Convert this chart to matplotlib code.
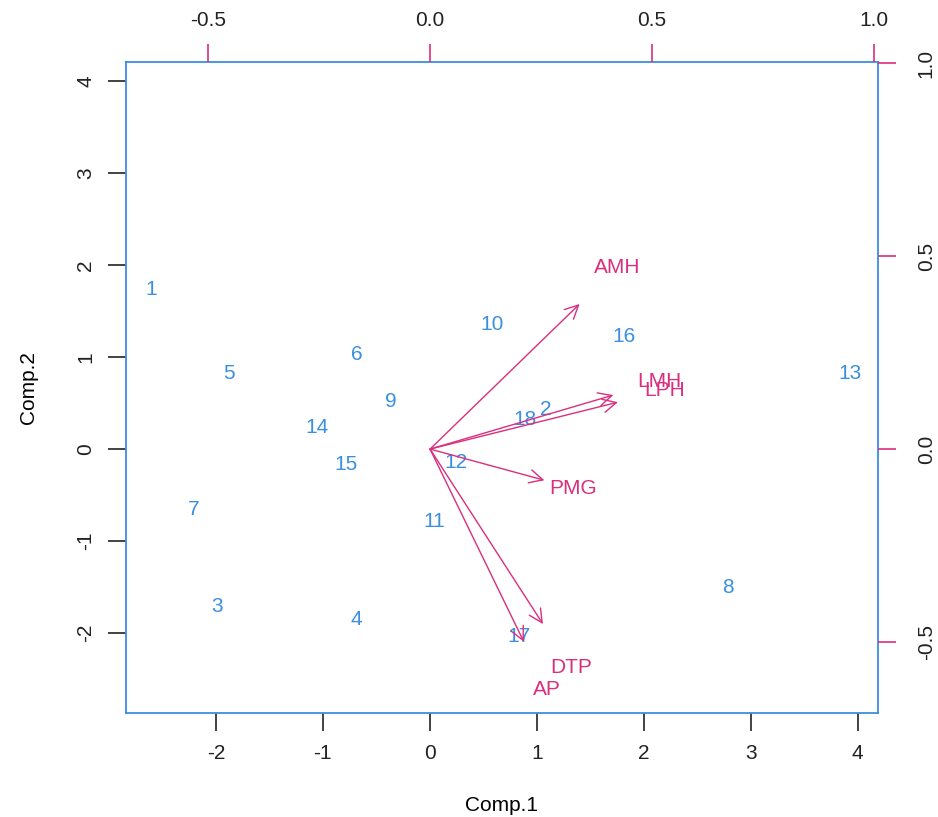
import numpy as np
import matplotlib.pyplot as plt

plt.rcParams['font.family'] = ['Liberation Sans', 'DejaVu Sans']
plt.rcParams['axes.unicode_minus'] = False

# principal component scores of the 18 observations
obs = ['1', '2', '3', '4', '5', '6', '7', '8', '9', '10',
       '11', '12', '13', '14', '15', '16', '17', '18']
comp1 = [-2.60, 1.08, -1.99, -0.69, -1.88, -0.68, -2.21, 2.79, -0.36, 0.58,
         0.04, 0.24, 3.93, -1.05, -0.78, 1.82, 0.83, 0.89]
comp2 = [1.74, 0.43, -1.71, -1.85, 0.82, 1.03, -0.66, -1.50, 0.52, 1.36,
         -0.79, -0.15, 0.82, 0.24, -0.17, 1.22, -2.04, 0.32]

# variable loadings (label positions; arrows drawn to 0.8 of these)
variables = ['AMH', 'LMH', 'LPH', 'PMG', 'DTP', 'AP']
load1 = [0.421, 0.516, 0.529, 0.322, 0.318, 0.264]
load2 = [0.470, 0.175, 0.152, -0.101, -0.567, -0.624]

blue = '#3a8fe0'
pink = '#d92f7e'
fs = 15

fig = plt.figure(figsize=(9.38, 8.17), dpi=100)
rect = [0.1343, 0.1273, 0.8017, 0.7967]
ax = fig.add_axes(rect)

for lab, x, y in zip(obs, comp1, comp2):
    ax.text(x, y, lab, color=blue, fontsize=fs, ha='center', va='center')

ax.set_xlim(-2.84, 4.19)
ax.set_ylim(-2.87, 4.21)
ax.set_xticks(range(-2, 5))
ax.set_yticks(range(-2, 5))
ax.set_yticklabels([str(v) for v in range(-2, 5)], rotation=90, va='center')
ax.tick_params(length=13, width=1.2, labelsize=fs, pad=9, colors='#222222')
ax.set_xlabel('Comp.1', fontsize=fs, labelpad=24)
ax.set_ylabel('Comp.2', fontsize=fs, labelpad=28)
for s in ax.spines.values():
    s.set_color(blue)
    s.set_linewidth(1.3)

# second set of axes (top/right) for the loadings
ax2 = fig.add_axes(rect, frameon=False)
ax2.set_xlim(-0.685, 1.009)
ax2.set_ylim(-0.684, 1.003)
ax2.xaxis.tick_top()
ax2.yaxis.tick_right()
ticks = [-0.5, 0.0, 0.5, 1.0]
ax2.set_xticks(ticks)
ax2.set_xticklabels(['%.1f' % t for t in ticks])
ax2.set_yticks(ticks)
ax2.set_yticklabels(['%.1f' % t for t in ticks], rotation=90, va='center')
ax2.tick_params(length=13, width=1.2, labelsize=fs, color=pink, labelcolor='#222222')
ax2.tick_params(axis='x', pad=10)
ax2.tick_params(axis='y', pad=15)

for lab, x, y in zip(variables, load1, load2):
    ax2.annotate('', xy=(0.8 * x, 0.8 * y), xytext=(0, 0),
                 arrowprops=dict(arrowstyle='->', color=pink, lw=1.0,
                                 mutation_scale=24, shrinkA=0, shrinkB=0))
    ax2.text(x, y, lab, color=pink, fontsize=fs, ha='center', va='center')

fig.savefig('out.png', dpi=100)
